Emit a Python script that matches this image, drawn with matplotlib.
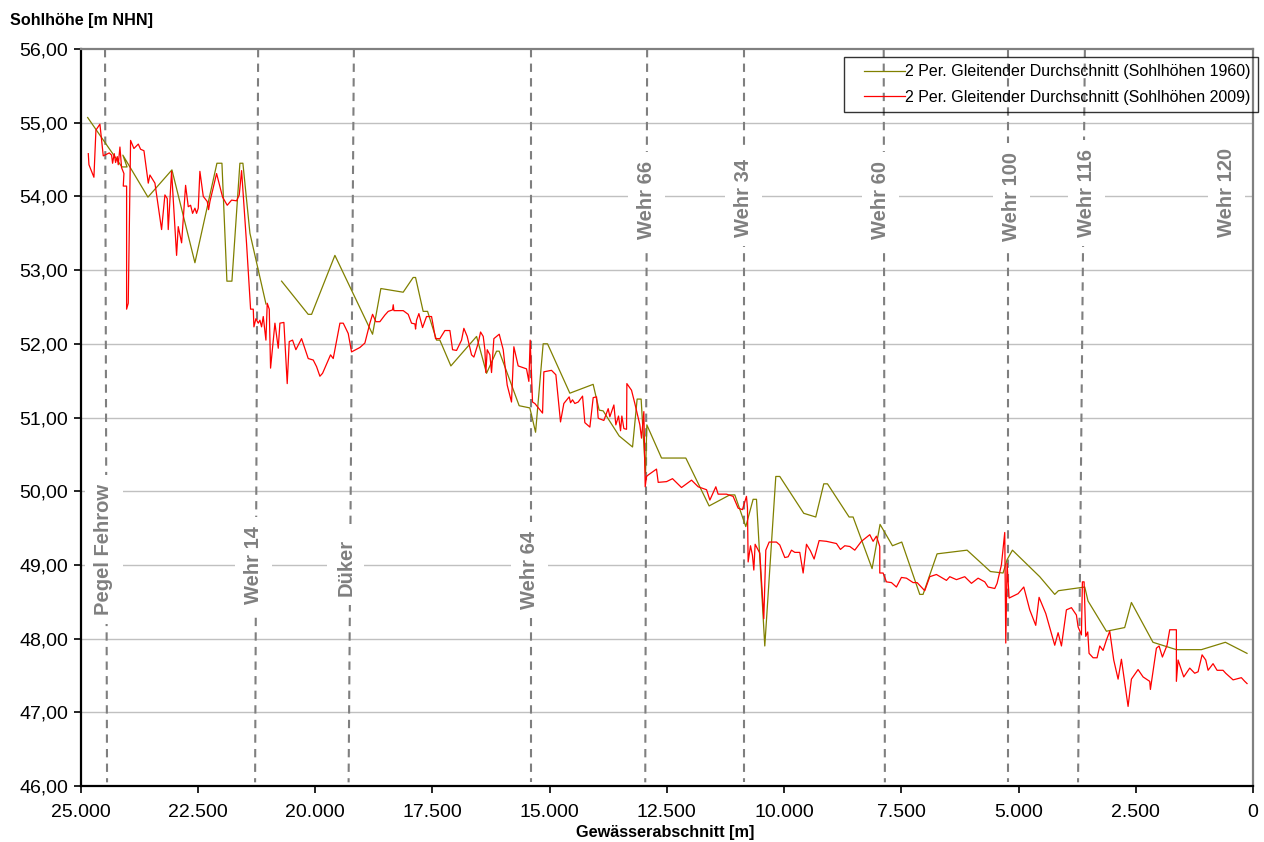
import numpy as np
import matplotlib
matplotlib.use('Agg')
import matplotlib.pyplot as plt
from matplotlib.ticker import FixedLocator, FuncFormatter
from matplotlib.lines import Line2D
from matplotlib.legend_handler import HandlerLine2D

plt.rcParams['font.family'] = ['Liberation Sans', 'DejaVu Sans']

# Sohlhöhen 1960 (2 Per. gleitender Durchschnitt), NaN = Lücke
x_1960 = [24850, 24120, 24010, 24100, 23565, 23053, 22563, 22094, 21987, 21881,
          21774, 21604, 21540, 21390, 21048, np.nan,
          20715, 20148, 20075, 19578, 18775, 18598, 18122, 17909, 17858, 17696,
          17602, 17410, 17340, 17105, 16557, 16344, 16131, 16075, 15649, 15421,
          15299, 15137, 15044, 14568, 14071, 13943, 13858, 13517, 13231, 13133,
          13048, 12954, 12926, 12613, 12095, 11598, 11157, 11050, 10816, 10660,
          10588, 10411, 10176, 10091, 9580, 9324, 9153, 9074, 8613, 8528,
          8123, 7953, 7688, 7490, 7106, 7036, 6737, 6097, 5599, 5330,
          5245, 5130, 4548, 4228, 4149, 3588, 3518, 3126, 2736, 2593,
          2133, 1634, 1101, 589, 128]
y_1960 = [55.07, 54.40, 54.40, 54.56, 53.99, 54.36, 53.10, 54.45, 54.45, 52.85,
          52.85, 54.45, 54.45, 53.50, 52.54, np.nan,
          52.85, 52.40, 52.40, 53.20, 52.13, 52.75, 52.70, 52.90, 52.90, 52.44,
          52.44, 52.05, 52.05, 51.70, 52.10, 51.60, 51.90, 51.90, 51.16, 51.13,
          50.80, 52.00, 52.00, 51.33, 51.45, 51.10, 51.09, 50.75, 50.60, 51.25,
          51.25, 50.24, 50.90, 50.45, 50.45, 49.80, 49.95, 49.95, 49.52, 49.89,
          49.89, 47.90, 50.20, 50.20, 49.70, 49.65, 50.10, 50.10, 49.65, 49.65,
          48.95, 49.55, 49.26, 49.31, 48.60, 48.60, 49.15, 49.20, 48.91, 48.89,
          49.07, 49.20, 48.84, 48.60, 48.65, 48.70, 48.51, 48.10, 48.15, 48.49,
          47.95, 47.85, 47.85, 47.95, 47.80]

# Sohlhöhen 2009 (2 Per. gleitender Durchschnitt)
x_2009 = [24837, 24823, 24717, 24674, 24589, 24518, 24390, 24340, 24319, 24283,
          24255, 24219, 24198, 24162, 24127, 24077, 24091, 24020, 24020, 23985,
          23935, 23864, 23771, 23722, 23650, 23558, 23523, 23416, 23274, 23203,
          23153, 23132, 23061, 22954, 22919, 22847, 22762, 22705, 22655, 22613,
          22563, 22528, 22492, 22457, 22385, 22300, 22272, 22243, 22101, 21973,
          21874, 21781, 21675, 21618, 21568, 21462, 21376, 21319, 21305, 21263,
          21213, 21177, 21142, 21106, 21049, 21021, 20978, 20950, 20857, 20786,
          20751, 20666, 20595, 20552, 20481, 20410, 20289, 20147, 20040, 19969,
          19898, 19841, 19671, 19614, 19471, 19400, 19294, 19223, 19045,
          18939, 18832, 18775, 18704, 18619, 18512, 18441, 18349, 18334, 18320,
          18121, 18015, 17944, 17872, 17858, 17837, 17787, 17709, 17624, 17517,
          17432, 17339, 17233, 17126, 17069, 16984, 16877, 16828, 16757, 16664,
          16614, 16522, 16472, 16415, 16380, 16359, 16330, 16273, 16238, 16188,
          16074, 15989, 15904, 15812, 15762, 15670, 15492, 15442, 15414, 15364,
          15314, 15150, 15122, 14959, 14866, 14767, 14696, 14582,
          14553, 14511, 14461, 14390, 14297, 14248, 14141, 14070, 13999, 13963,
          13843, 13750, 13715, 13629, 13587, 13530, 13487, 13459, 13416, 13359,
          13352, 13253, 13182, 13075, 13040, 12990, 12961, 12933, 12897, 12720,
          12684, 12506, 12379, 12187, 11973, 11831, 11653, 11582,
          11455, 11406, 11228, 11086, 10979, 10887, 10802, 10780, 10766, 10716,
          10674, 10645, 10617, 10517, 10432, 10389, 10318, 10162, 10091, 9984,
          9913, 9842, 9771, 9665, 9593, 9522, 9437, 9359, 9252, 9096,
          8883, 8798, 8705, 8598, 8492, 8350, 8172, 8101, 8030, 7959,
          7959, 7888, 7817, 7710, 7604, 7497, 7390, 7248, 7163, 7000,
          6893, 6751, 6537, 6466, 6324, 6147, 6004, 5862, 5720, 5649, 5507,
          5457, 5365, 5294, 5272, 5244, 5201, 5009, 4888, 4761, 4633,
          4562, 4419, 4228, 4156, 4085, 3979, 3872, 3766, 3730, 3659,
          3638, 3602, 3567, 3524, 3496, 3410, 3325, 3268, 3197, 3126,
          3055, 2970, 2877, 2806, 2664, 2593, 2451, 2344, 2202, 2188,
          2060, 2003, 1932, 1833, 1776, 1634, 1634, 1598, 1477, 1349,
          1243, 1171, 1086, 1008, 958, 852, 766, 639, 582, 425,
          248, 176, 127]
y_2009 = [54.58, 54.43, 54.26, 54.90, 54.98, 54.55, 54.59, 54.56, 54.45, 54.58,
          54.46, 54.54, 54.43, 54.67, 54.39, 54.31, 54.14, 54.14, 52.47, 52.55,
          54.76, 54.65, 54.71, 54.64, 54.62, 54.18, 54.29, 54.18, 53.55, 54.02,
          53.97, 53.55, 54.34, 53.20, 53.59, 53.37, 54.15, 53.86, 53.88, 53.77,
          53.84, 53.77, 53.84, 54.34, 54.00, 53.93, 53.82, 53.93, 54.31, 53.99,
          53.88, 53.95, 53.94, 54.02, 54.35, 53.36, 52.47, 52.47, 52.23, 52.34,
          52.28, 52.32, 52.23, 52.37, 52.05, 52.55, 52.47, 51.67, 52.28, 51.94,
          52.28, 52.29, 51.46, 52.03, 52.05, 51.92, 52.07, 51.80, 51.78, 51.69,
          51.56, 51.60, 51.85, 51.80, 52.28, 52.28, 52.14, 51.89, 51.95,
          52.01, 52.28, 52.40, 52.30, 52.30, 52.39, 52.44, 52.46, 52.53, 52.45,
          52.45, 52.40, 52.28, 52.27, 52.20, 52.32, 52.41, 52.22, 52.37, 52.37,
          52.07, 52.07, 52.18, 52.18, 51.92, 51.91, 52.05, 52.21, 52.10, 51.85,
          51.82, 52.01, 52.16, 52.10, 51.92, 51.61, 51.92, 51.85, 51.61, 52.07,
          52.13, 51.92, 51.44, 51.21, 51.96, 51.70, 51.66, 51.49, 52.05, 51.21,
          51.19, 51.06, 51.62, 51.64, 51.58, 50.94, 51.19, 51.28,
          51.20, 51.24, 51.19, 51.21, 51.29, 50.93, 50.87, 51.27, 51.28, 50.99,
          50.96, 51.12, 51.01, 51.17, 50.90, 51.02, 50.82, 51.02, 50.85, 50.84,
          51.46, 51.37, 51.19, 50.90, 50.72, 51.08, 50.06, 50.20, 50.22, 50.30,
          50.12, 50.13, 50.17, 50.05, 50.15, 50.06, 50.02, 49.88,
          50.06, 49.96, 49.96, 49.93, 49.77, 49.75, 49.93, 49.77, 49.04, 49.26,
          49.13, 48.93, 49.28, 49.16, 48.27, 49.20, 49.31, 49.31, 49.27, 49.10,
          49.11, 49.20, 49.17, 49.17, 48.89, 49.28, 49.19, 49.08, 49.33, 49.32,
          49.29, 49.21, 49.26, 49.25, 49.20, 49.32, 49.41, 49.32, 49.39, 49.25,
          48.89, 48.89, 48.77, 48.76, 48.70, 48.83, 48.82, 48.76, 48.76, 48.65,
          48.84, 48.87, 48.79, 48.84, 48.80, 48.84, 48.75, 48.82, 48.77, 48.70, 48.68,
          48.75, 49.00, 49.44, 47.94, 49.02, 48.55, 48.61, 48.70, 48.39, 48.18,
          48.56, 48.34, 47.91, 48.08, 47.90, 48.39, 48.42, 48.32, 48.16, 48.05,
          48.77, 48.77, 48.03, 48.09, 47.80, 47.74, 47.74, 47.90, 47.84, 47.98,
          48.10, 47.71, 47.45, 47.72, 47.08, 47.45, 47.58, 47.48, 47.42, 47.31,
          47.87, 47.90, 47.75, 47.91, 48.12, 48.12, 47.42, 47.71, 47.48, 47.60,
          47.53, 47.55, 47.78, 47.71, 47.57, 47.66, 47.57, 47.57, 47.53, 47.44,
          47.47, 47.42, 47.39]

# Bauwerke: Linie oben/unten (leicht schräg wie im Original) und Beschriftung
marker_names = ['Pegel Fehrow', 'Wehr 14', 'Düker', 'Wehr 64', 'Wehr 66',
                'Wehr 34', 'Wehr 60', 'Wehr 100', 'Wehr 116', 'Wehr 120']
marker_x_top = [24480, 21215, 19173, 15400, 12920, 10845, 7875, 5223, 3585, np.nan]
marker_x_bot = [24437, 21280, 19286, 15400, 12960, 10845, 7850, 5223, 3731, np.nan]
label_x = [24503, 21305, 19344, 15421, 12926, 10858, 7938, 5145, 3546, 561]
label_y = [49.21, 49.00, 48.96, 48.93, 53.95, 53.98, 53.95, 54.00, 54.05, 54.05]

x_ticks = [25000, 22500, 20000, 17500, 15000, 12500, 10000, 7500, 5000, 2500, 0]
y_ticks = [46, 47, 48, 49, 50, 51, 52, 53, 54, 55, 56]

fig = plt.figure(figsize=(12.64, 8.42), dpi=100)
ax = fig.add_axes([0.0638, 0.0665, 0.9275, 0.8753])

ax.set_xlim(25000, 0)
ax.set_ylim(46, 56)

for yt in y_ticks[1:-1]:
    ax.axhline(yt, color='#c0c0c0', lw=1.0, zorder=1)

for xt, xb in zip(marker_x_top, marker_x_bot):
    if np.isnan(xt):
        continue
    ax.plot([xt, xb], [56, 46.05], color='#7f7f7f', lw=1.5,
            linestyle=(0, (4, 3)), zorder=2)

ax.plot(x_1960, y_1960, color='#808000', lw=0.9, zorder=3,
        label='2 Per. Gleitender Durchschnitt (Sohlhöhen 1960)')
ax.plot(x_2009, y_2009, color='#ff0000', lw=0.9, zorder=3,
        label='2 Per. Gleitender Durchschnitt (Sohlhöhen 2009)')

for name, lx, ly in zip(marker_names, label_x, label_y):
    ax.text(lx, ly, name, rotation=90, ha='center', va='center',
            fontsize=14.5, fontweight='bold', color='#808080', zorder=4,
            bbox=dict(facecolor='white', edgecolor='none',
                      boxstyle='square,pad=0.45'))

ax.xaxis.set_major_locator(FixedLocator(x_ticks))
ax.yaxis.set_major_locator(FixedLocator(y_ticks))
ax.xaxis.set_major_formatter(FuncFormatter(lambda v, p: '{:,.0f}'.format(v).replace(',', '.')))
ax.yaxis.set_major_formatter(FuncFormatter(lambda v, p: '{:.2f}'.format(v).replace('.', ',')))
ax.tick_params(axis='both', labelsize=14, direction='out', length=5, width=1.2, color='black')
ax.tick_params(axis='x', pad=8)
ax.tick_params(axis='y', pad=4)

for s in ['left', 'bottom']:
    ax.spines[s].set_color('black')
    ax.spines[s].set_linewidth(1.6)
for s in ['top', 'right']:
    ax.spines[s].set_color('#808080')
    ax.spines[s].set_linewidth(1.6)

leg = ax.legend(loc='upper right', bbox_to_anchor=(1258 / 1264, 1 - 57 / 842),
                bbox_transform=fig.transFigure, fontsize=11.5, frameon=True,
                fancybox=False, borderaxespad=0, handlelength=3.4,
                borderpad=0.45, labelspacing=0.65, handletextpad=0.0,
                handler_map={Line2D: HandlerLine2D(xpad=0.8)})
leg.get_frame().set_facecolor('none')
leg.get_frame().set_edgecolor('black')
leg.get_frame().set_linewidth(1.0)

fig.text(10 / 1264, 1 - 20 / 842, 'Sohlhöhe [m NHN]', fontsize=11.6,
         fontweight='bold', ha='left', va='center')
fig.text(665 / 1264, 1 - 833 / 842, 'Gewässerabschnitt [m]', fontsize=11.7,
         fontweight='bold', ha='center', va='center')

fig.savefig('out.png', dpi=100)
